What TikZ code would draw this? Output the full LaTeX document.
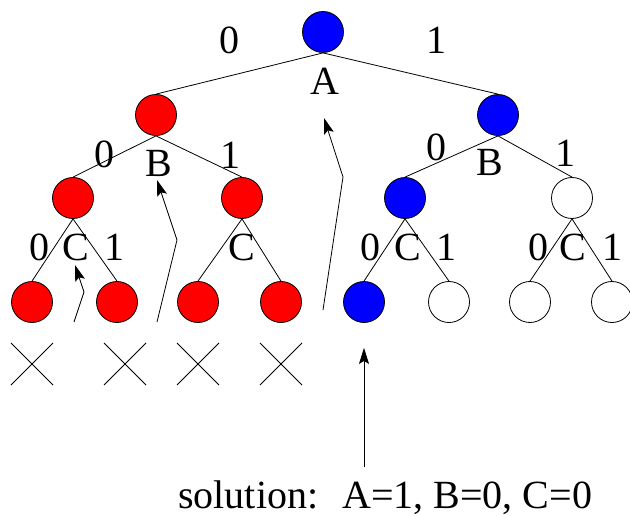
\documentclass[tikz,border=0pt]{standalone}
\usepackage{fontspec}
\setmainfont{Liberation Serif}
\usepackage{tikz}
\usetikzlibrary{arrows.meta}

\tikzset{
  var/.style={circle, draw, line width=0.8pt, minimum size=41pt, inner sep=0pt},
  lbl/.style={inner sep=0pt, font=\fontsize{40}{48}\selectfont},
  edge/.style={line width=0.8pt},
  ptr/.style={line width=0.8pt, -{Stealth[length=16pt,width=10pt,inset=3pt]}},
}

\begin{document}
\begin{tikzpicture}[x=1pt, y=-1pt]
\useasboundingbox (0,0) rectangle (630,516);
% Decision tree: A on top, then B, then C
\node[var, fill=blue] (a) at (323,32) {};
\node[var, fill=red] (b0) at (156,115) {};
\node[var, fill=blue] (b1) at (498,115) {};
\foreach \n/\x/\c in {c00/73/red, c01/242/red, c10/405/blue, c11/572/white} {
  \node[var, fill=\c] (\n) at (\x,198) {};
}
% Leaves
\foreach \n/\x/\c in {d000/32/red, d001/117/red, d010/198/red, d011/281/red,
                      d100/364/blue, d101/449/white, d110/530/white, d111/612/white} {
  \node[var, fill=\c] (\n) at (\x,302) {};
}
% Branches
\foreach \p/\q in {a/b0, a/b1, b0/c00, b0/c01, b1/c10, b1/c11,
                   c00/d000, c00/d001, c01/d010, c01/d011,
                   c10/d100, c10/d101, c11/d110, c11/d111} {
  \draw[edge] (\p.south) -- (\q.north);
}
% Variable names and branch values
\node[lbl] (la) at (325,81) {A};
\node[lbl] (ea0) at (229,40) {0};
\node[lbl] (ea1) at (436,40) {1};
\node[lbl] (lb0) at (159,163) {B};
\node[lbl] (eb00) at (104,154) {0};
\node[lbl] (eb01) at (230,155) {1};
\node[lbl] (lb1) at (490,162) {B};
\node[lbl] (eb10) at (436,147) {0};
\node[lbl] (eb11) at (565,153) {1};
\foreach \n/\x/\t in {ec000/39/0, lc00/76/C, ec001/114/1, lc01/242/C,
                      ec100/370/0, lc10/408/C, ec101/446/1,
                      ec110/538/0, lc11/573/C, ec111/612/1} {
  \node[lbl] (\n) at (\x,247) {\t};
}
% Pruned leaves
\foreach \x in {32,125,198,281} {
  \draw[edge] (\x-21,343) -- (\x+21,385) (\x-21,385) -- (\x+21,343);
}
% Pointers
\coordinate (tc) at (74,322);  \coordinate (kc) at (84,292);  \coordinate (pc) at (75,265);
\coordinate (tb) at (157,322); \coordinate (kb) at (177,240); \coordinate (pb) at (157,180);
\coordinate (ta) at (323,310); \coordinate (ka) at (343,177); \coordinate (pa) at (324,118);
\draw[ptr] (tc) -- (kc) -- (pc);
\draw[ptr] (tb) -- (kb) -- (pb);
\draw[ptr] (ta) -- (ka) -- (pa);
% Solution
\node[lbl, anchor=base west] (sol) at (178,508) {solution:\hspace{0.6em}A=1, B=0, C=0};
\coordinate (ts) at (364,467);
\draw[ptr, shorten >=25pt] (ts) -- (d100.south);
\end{tikzpicture}
\end{document}
